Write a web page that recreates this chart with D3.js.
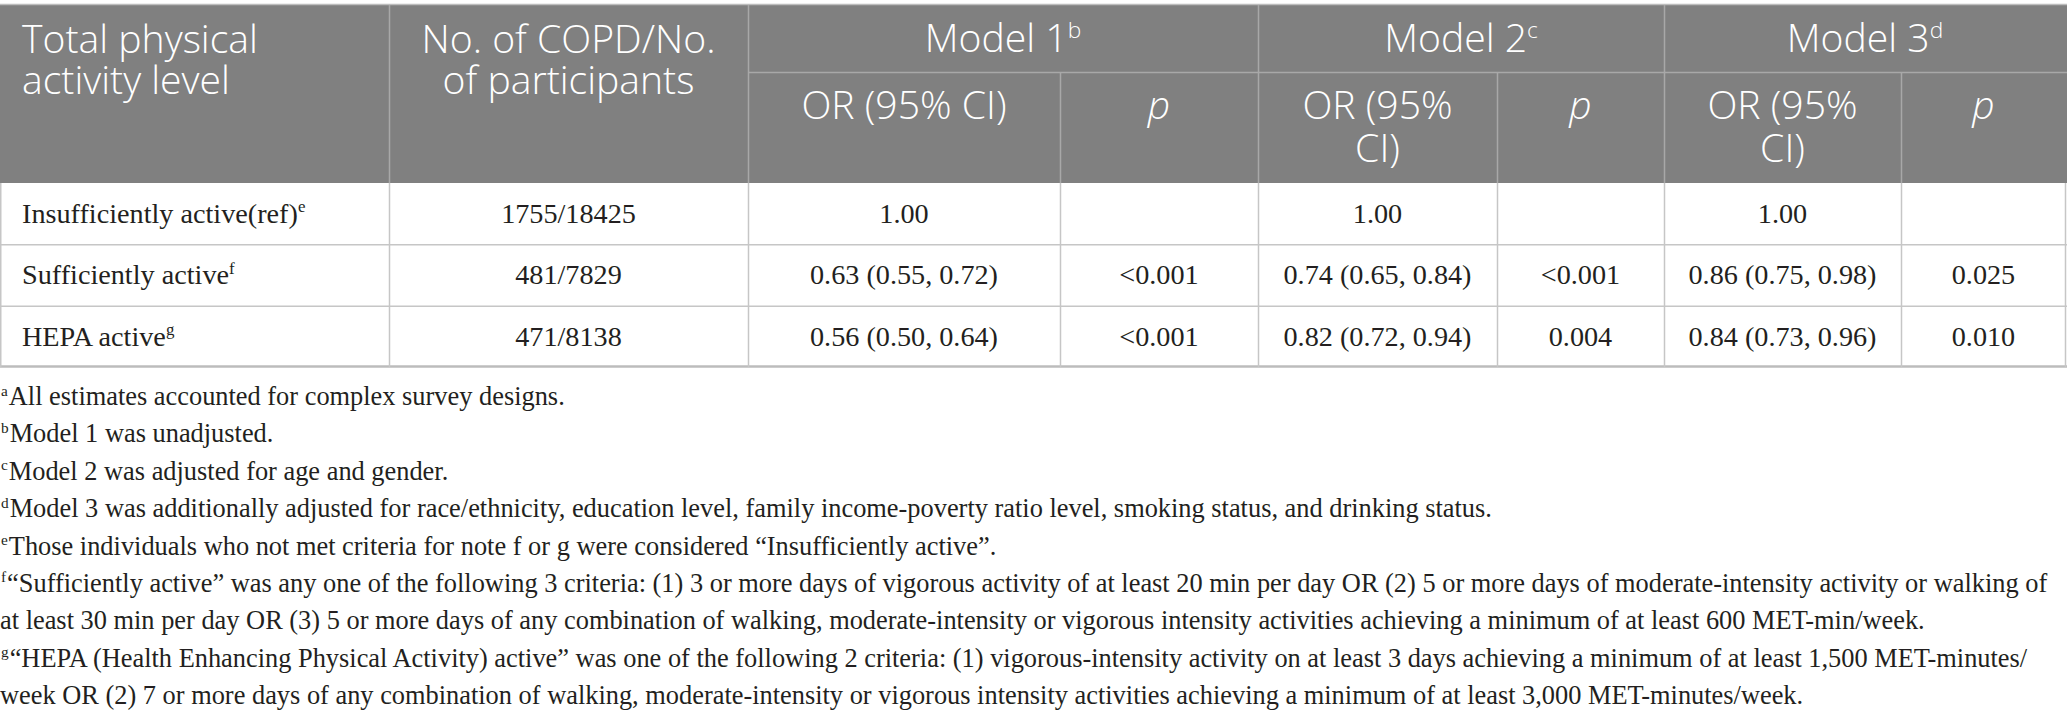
<!DOCTYPE html>
<html><head><meta charset="utf-8">
<script src="https://cdn.jsdelivr.net/npm/d3@7"></script>
<style>html,body{margin:0;padding:0;background:#fff}svg{display:block}</style>
</head><body>
<svg id="c" width="2067" height="719"></svg>
<script>
// ---------- DATA ----------
const rowLabels = ["Insufficiently active(ref)", "Sufficiently active", "HEPA active"];
const rowNotes = ["e", "f", "g"];
const counts = ["1755/18425", "481/7829", "471/8138"];
const model1OR = ["1.00", "0.63 (0.55, 0.72)", "0.56 (0.50, 0.64)"];
const model1P = ["", "<0.001", "<0.001"];
const model2OR = ["1.00", "0.74 (0.65, 0.84)", "0.82 (0.72, 0.94)"];
const model2P = ["", "<0.001", "0.004"];
const model3OR = ["1.00", "0.86 (0.75, 0.98)", "0.84 (0.73, 0.96)"];
const model3P = ["", "0.025", "0.010"];
const modelNames = ["Model 1", "Model 2", "Model 3"];
const modelNotes = ["b", "c", "d"];
const headLabel = "Total physical activity level";
const headCount = "No. of COPD/No. of participants";
const subHeads = ["OR (95% CI)", "p"];
const footMarks = ["a", "b", "c", "d", "e", "f", "", "g", ""];
const footLines = [
  "All estimates accounted for complex survey designs.",
  "Model 1 was unadjusted.",
  "Model 2 was adjusted for age and gender.",
  "Model 3 was additionally adjusted for race/ethnicity, education level, family income-poverty ratio level, smoking status, and drinking status.",
  "Those individuals who not met criteria for note f or g were considered \u201cInsufficiently active\u201d.",
  "\u201cSufficiently active\u201d was any one of the following 3 criteria: (1) 3 or more days of vigorous activity of at least 20 min per day OR (2) 5 or more days of moderate-intensity activity or walking of",
  "at least 30 min per day OR (3) 5 or more days of any combination of walking, moderate-intensity or vigorous intensity activities achieving a minimum of at least 600 MET-min/week.",
  "\u201cHEPA (Health Enhancing Physical Activity) active\u201d was one of the following 2 criteria: (1) vigorous-intensity activity on at least 3 days achieving a minimum of at least 1,500 MET-minutes/",
  "week OR (2) 7 or more days of any combination of walking, moderate-intensity or vigorous intensity activities achieving a minimum of at least 3,000 MET-minutes/week."
];

// ---------- LAYOUT ----------
const svg = d3.select("#c");
const SANS = "'Open Sans','Noto Sans','DejaVu Sans',sans-serif";
const SERIF = "'Liberation Serif','DejaVu Serif',serif";
const colKeys = ["label","count","m1or","m1p","m2or","m2p","m3or","m3p","end"];
const colX = d3.scaleOrdinal().domain(colKeys).range([0,389,748,1060,1258,1497,1664,1901,2066]);
const nextKey = k => colKeys[colKeys.indexOf(k)+1];
const cx = k => (colX(k) + colX(nextKey(k))) / 2;
const y = d3.scaleBand().domain(d3.range(rowLabels.length)).range([183, 367]);
const footY = d3.scaleLinear().domain([0, footLines.length-1]).range([405, 704]);

function measure(text, family, weight, size, style){
  const t = svg.append("text").attr("font-family",family).attr("font-weight",weight)
    .attr("font-style",style||"normal").attr("font-size",size).text(text);
  const w = t.node().getComputedTextLength(); t.remove(); return w;
}
const hSize = 100*236/measure("Total physical", SANS, 300, 100);
const bSize = 100*276/measure(rowLabels[0], SERIF, 400, 100);
const fSize = 100*(2052-11)/measure(footLines[5], SERIF, 400, 100);

// ---------- HEADER ----------
const HBG = "#808080", HLINE = "#a8a8a8", BLINE = "#c6c6c6";
svg.append("rect").attr("x",0).attr("y",5).attr("width",2067).attr("height",178).attr("fill",HBG);
svg.append("line").attr("x1",0).attr("x2",2067).attr("y1",4.5).attr("y2",4.5).attr("stroke","#bdbdbd").attr("stroke-width",1.5);
svg.append("line").attr("x1",colX("m1or")).attr("x2",2067).attr("y1",72.5).attr("y2",72.5).attr("stroke",HLINE).attr("stroke-width",1.5);
["count","m1or","m2or","m3or"].forEach(k=>svg.append("line").attr("x1",colX(k)+0.5).attr("x2",colX(k)+0.5).attr("y1",5).attr("y2",183).attr("stroke",HLINE).attr("stroke-width",1.5));
["m1p","m2p","m3p"].forEach(k=>svg.append("line").attr("x1",colX(k)+0.5).attr("x2",colX(k)+0.5).attr("y1",72).attr("y2",183).attr("stroke",HLINE).attr("stroke-width",1.5));

function wrapLines(str, maxW){
  const words = str.split(" "); const lines=[]; let cur="";
  words.forEach(w=>{ const test = cur? cur+" "+w : w;
    if(cur && measure(test,SANS,300,hSize) > maxW){ lines.push(cur); cur=w; } else cur=test; });
  lines.push(cur); return lines;
}
// multi-line header text as one text element with tspans
function htext(x, yy, lines, anchor, opts){
  opts = opts||{};
  const t = svg.append("text").attr("x",x).attr("y",yy).attr("text-anchor",anchor)
    .attr("font-family",SANS).attr("font-weight",300).attr("font-size",hSize).attr("fill","#fff")
    .attr("font-style",opts.italic?"italic":"normal");
  lines.forEach((l,i)=>{
    t.append("tspan").attr("x",x).attr("dy", i===0 ? 0 : (opts.lh||41)).text(l);
  });
  if(opts.sup) t.append("tspan").attr("font-size",hSize*0.58).attr("dy",-hSize*0.36).text(opts.sup);
  return t;
}
htext(22, 53, wrapLines(headLabel, colX("count")-colX("label")-120), "start");
htext(cx("count"), 53, wrapLines(headCount, colX("m1or")-colX("count")-44), "middle");
modelNames.forEach((m,i)=>{
  const k0 = ["m1or","m2or","m3or"][i], k1 = ["m2or","m3or","end"][i];
  htext((colX(k0)+colX(k1))/2, 52, [m], "middle", {sup: modelNotes[i]});
});
[["m1or","m1p"],["m2or","m2p"],["m3or","m3p"]].forEach(([ko,kp])=>{
  const w = colX(nextKey(ko)) - colX(ko) - 70;
  htext(cx(ko), 119, wrapLines(subHeads[0], w), "middle", {lh:43});
  htext(cx(kp), 119, [subHeads[1]], "middle", {italic:true});
});

// ---------- BODY ----------
const body = svg.append("g");
rowLabels.forEach((r,i)=>{
  const yb = y(i) + 40;
  const t = body.append("text").attr("x",22).attr("y",yb).attr("font-family",SERIF).attr("font-size",bSize).attr("fill","#231f20");
  t.append("tspan").text(r);
  t.append("tspan").attr("font-size",bSize*0.6).attr("dy",-bSize*0.38).text(rowNotes[i]);
  const cells = [["count",counts[i]],["m1or",model1OR[i]],["m1p",model1P[i]],["m2or",model2OR[i]],["m2p",model2P[i]],["m3or",model3OR[i]],["m3p",model3P[i]]];
  cells.forEach(([k,v])=>{
    if(!v) return;
    body.append("text").attr("x",cx(k)).attr("y",yb).attr("text-anchor","middle")
      .attr("font-family",SERIF).attr("font-size",bSize).attr("fill","#231f20").text(v);
  });
});
d3.range(1, rowLabels.length).forEach(i=>body.append("line").attr("x1",0).attr("x2",2067).attr("y1",y(i)+0.5).attr("y2",y(i)+0.5).attr("stroke",BLINE).attr("stroke-width",1.5));
body.append("line").attr("x1",0).attr("x2",2067).attr("y1",366.5).attr("y2",366.5).attr("stroke","#bcbcbc").attr("stroke-width",2.5);
colKeys.forEach(k=>{
  const xx = k==="label" ? 0.75 : (k==="end" ? 2065.5 : colX(k)+0.5);
  body.append("line").attr("x1",xx).attr("x2",xx).attr("y1",183).attr("y2",367).attr("stroke",BLINE).attr("stroke-width",1.5);
});

// ---------- FOOTNOTES ----------
footLines.forEach((l,i)=>{
  const t = svg.append("text").attr("x",1).attr("y",footY(i)).attr("font-family",SERIF).attr("font-size",fSize).attr("fill","#231f20");
  if(footMarks[i]){
    t.append("tspan").attr("font-size",fSize*0.58).attr("dy",-fSize*0.36).text(footMarks[i]);
    t.append("tspan").attr("dy",fSize*0.36).attr("dx",1).text(l);
  } else {
    t.attr("x",0).append("tspan").text(l);
  }
});
</script>
</body></html>
